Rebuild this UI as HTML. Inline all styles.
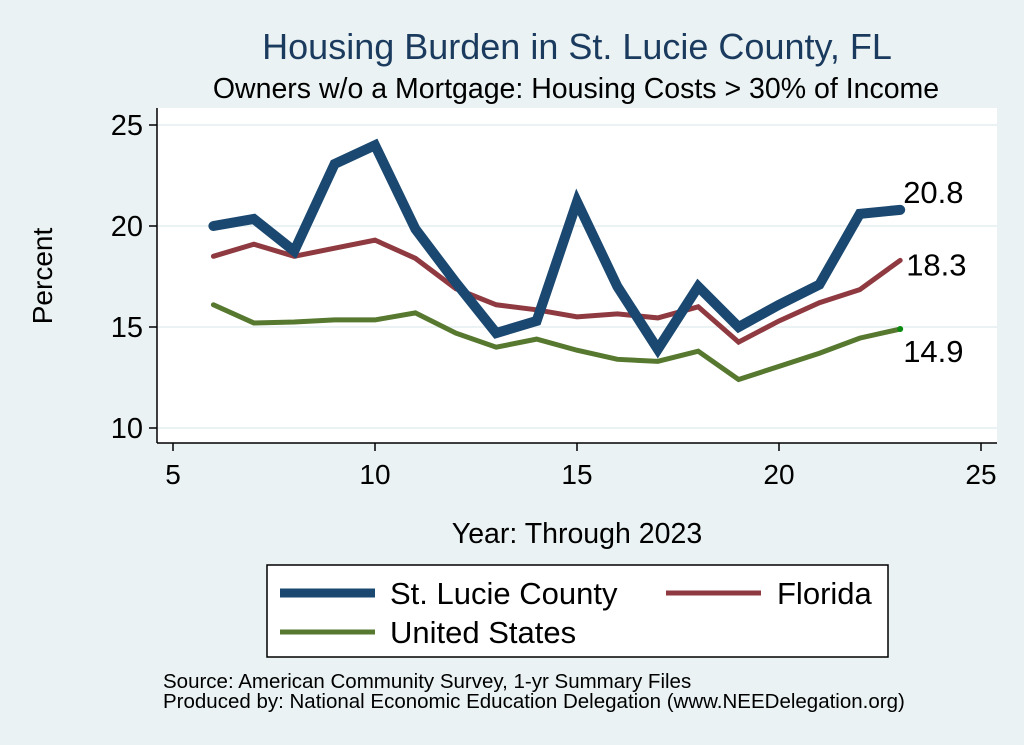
<!DOCTYPE html>
<html><head><meta charset="utf-8"><style>
html,body{margin:0;padding:0;background:#eaf2f3;}
svg{display:block;font-family:"Liberation Sans",Arial,sans-serif;}
</style></head><body>
<svg id="chart" width="1024" height="745" viewBox="0 0 1024 745">
<rect x="0" y="0" width="1024" height="745" fill="#eaf2f3"/>
<text x="577" y="59" text-anchor="middle" font-size="36" fill="#1a3a5e">Housing Burden in St. Lucie County, FL</text>
<text x="576" y="98" text-anchor="middle" font-size="28.5" fill="#000">Owners w/o a Mortgage: Housing Costs &gt; 30% of Income</text>
<rect x="157" y="108" width="840" height="335" fill="#fff"/>
<g id="grid"></g>
<line x1="157" y1="108" x2="157" y2="443" stroke="#000" stroke-width="1.5"/>
<line x1="157" y1="443" x2="997" y2="443" stroke="#000" stroke-width="1.5"/>
<g id="axes"></g>
<g id="series"></g>
<text x="52" y="276" text-anchor="middle" font-size="28" transform="rotate(-90 52 276)">Percent</text>
<text x="577" y="543" text-anchor="middle" font-size="28.5">Year: Through 2023</text>
<g>
<rect x="267" y="565" width="621" height="92" fill="#fff" stroke="#000" stroke-width="1.5"/>
<line x1="280" y1="593" x2="375" y2="593" stroke="#1a4870" stroke-width="9"/>
<text x="390" y="604" font-size="31">St. Lucie County</text>
<line x1="666" y1="593" x2="761" y2="593" stroke="#8f3a40" stroke-width="5"/>
<text x="777" y="604" font-size="31">Florida</text>
<line x1="280" y1="632" x2="375" y2="632" stroke="#56782f" stroke-width="5"/>
<text x="390" y="643" font-size="31">United States</text>
</g>
<text x="163" y="688" font-size="20.5">Source: American Community Survey, 1-yr Summary Files</text>
<text x="163" y="708" font-size="20.5">Produced by: National Economic Education Delegation (www.NEEDelegation.org)</text>
</svg>
<script>
const years = [6,7,8,9,10,11,12,13,14,15,16,17,18,19,20,21,22,23];
const stLucie = [20.0,20.35,18.76,23.07,24.0,19.85,17.2,14.7,15.3,21.2,17.0,13.9,17.0,15.0,16.1,17.1,20.6,20.8];
const florida = [18.5,19.1,18.5,18.9,19.3,18.4,16.9,16.1,15.85,15.5,15.65,15.45,16.0,14.25,15.3,16.2,16.85,18.3];
const unitedStates = [16.1,15.2,15.25,15.35,15.35,15.7,14.7,14.0,14.4,13.85,13.4,13.3,13.8,12.4,13.05,13.7,14.45,14.9];
const xTicks = [5,10,15,20,25];
const yTicks = [10,15,20,25];
const endLabels = ["20.8","18.3","14.9"];

const NS = "http://www.w3.org/2000/svg";
const xS = v => 173 + (v - 5) * 40.4;
const yS = v => 428 - (v - 10) * 20.2;
function mk(tag, attrs, parent){ const e=document.createElementNS(NS,tag); for(const k in attrs) e.setAttribute(k,attrs[k]); parent.appendChild(e); return e; }
const grid=document.getElementById('grid'), axes=document.getElementById('axes'), ser=document.getElementById('series');
yTicks.forEach(t=>{
  const g=mk('line',{x1:158,x2:997,y1:yS(t),y2:yS(t),stroke:'#eaf2f3','stroke-width':2},grid);
  
  
  const tk=mk('line',{x1:149,x2:157,y1:yS(t),y2:yS(t),stroke:'#000','stroke-width':1.5},axes);
  
  
  const tx=mk('text',{x:143,y:yS(t)+10,'text-anchor':'end','font-size':29},axes);
  tx.textContent=t;
  
  
});
xTicks.forEach(t=>{
  const tk=mk('line',{x1:xS(t),x2:xS(t),y1:443,y2:451,stroke:'#000','stroke-width':1.5},axes);
  
  
  const tx=mk('text',{x:xS(t),y:484,'text-anchor':'middle','font-size':28},axes);
  tx.textContent=t;
  
  
});
const specs=[[unitedStates,'#56782f',5,'line-united-states'],[florida,'#8f3a40',5,'line-florida'],[stLucie,'#1a4870',10,'line-st-lucie']];
specs.forEach(([vals,col,w,name])=>{
  const p=mk('polyline',{points:years.map((y,i)=>xS(y)+','+yS(vals[i])).join(' '),fill:'none',stroke:col,'stroke-width':w,'stroke-linejoin':'miter','stroke-miterlimit':3,'stroke-linecap':'round'},ser);
  
  
});
const lastX = xS(years[years.length-1]);
const dot=mk('circle',{cx:lastX,cy:yS(unitedStates[unitedStates.length-1]),r:3,fill:'#0a8a10'},ser);


const lastVals=[stLucie[stLucie.length-1],florida[florida.length-1],unitedStates[unitedStates.length-1]];
const offs=[-7,15,33];
const dx=[3,6,3];
lastVals.forEach((v,i)=>{
  const tx=mk('text',{x:lastX+dx[i],y:yS(v)+offs[i],'font-size':31},ser);
  tx.textContent=endLabels[i];
  
  
});
</script>
</body></html>
